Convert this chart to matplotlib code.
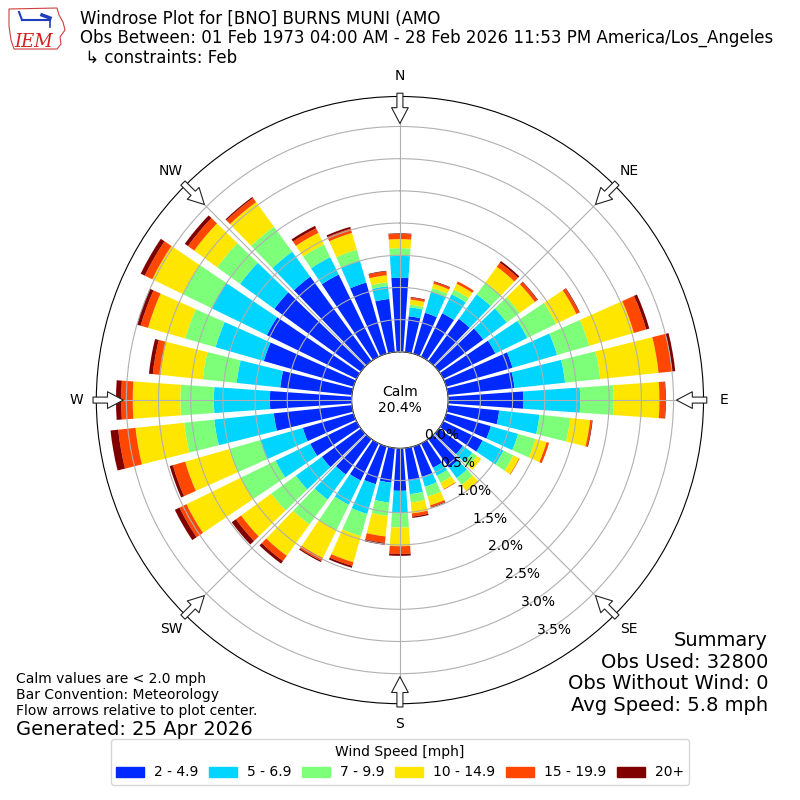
import numpy as np
import matplotlib
matplotlib.use('Agg')
import matplotlib.pyplot as plt
from matplotlib.patches import FancyArrowPatch, Polygon, Patch

# wind directions (deg, from) and speed bins
directions = np.arange(0, 360, 10)
speed_labels = ['2 - 4.9', '5 - 6.9', '7 - 9.9', '10 - 14.9', '15 - 19.9', '20+']

# frequency (%) of each speed bin per direction
f_2_5 = [1.15, 0.56, 0.66, 0.75, 0.81, 0.85, 0.90, 1.07, 1.04, 1.17, 0.80, 0.72,
         0.68, 0.46, 0.55, 0.42, 0.49, 0.51, 0.66, 0.54, 0.61, 0.64, 0.68, 0.75,
         0.80, 0.82, 1.22, 1.27, 1.12, 1.45, 1.55, 1.66, 1.62, 1.42, 1.15, 0.83]
f_5_7 = [0.34, 0.14, 0.34, 0.33, 0.47, 0.45, 0.55, 0.72, 0.79, 0.88, 0.63, 0.44,
         0.36, 0.18, 0.20, 0.14, 0.16, 0.21, 0.35, 0.31, 0.48, 0.42, 0.48, 0.50,
         0.60, 0.69, 0.93, 0.87, 0.68, 0.78, 0.95, 0.66, 0.48, 0.30, 0.35, 0.20]
f_7_10 = [0.12, 0.04, 0.06, 0.08, 0.23, 0.25, 0.50, 0.52, 0.55, 0.52, 0.48, 0.28,
          0.17, 0.09, 0.13, 0.12, 0.16, 0.13, 0.22, 0.21, 0.36, 0.44, 0.48, 0.47,
          0.60, 0.50, 0.47, 0.52, 0.53, 0.49, 0.50, 0.44, 0.48, 0.22, 0.18, 0.06]
f_10_15 = [0.14, 0.08, 0.07, 0.10, 0.30, 0.29, 0.35, 0.72, 0.91, 0.71, 0.31, 0.18,
           0.10, 0.08, 0.12, 0.11, 0.14, 0.17, 0.29, 0.32, 0.42, 0.48, 0.60, 0.58,
           0.94, 0.71, 0.76, 0.74, 0.66, 0.60, 0.53, 0.44, 0.47, 0.20, 0.27, 0.11]
f_15_20 = [0.08, 0.03, 0.03, 0.04, 0.08, 0.05, 0.05, 0.20, 0.21, 0.09, 0.03, 0.04,
           0.01, 0.00, 0.01, 0.01, 0.03, 0.05, 0.12, 0.10, 0.06, 0.05, 0.10, 0.10,
           0.12, 0.20, 0.27, 0.18, 0.12, 0.12, 0.13, 0.12, 0.08, 0.08, 0.07, 0.06]
f_20p = [0.01, 0.01, 0.01, 0.00, 0.03, 0.01, 0.01, 0.05, 0.05, 0.01, 0.01, 0.00,
         0.00, 0.00, 0.00, 0.00, 0.01, 0.02, 0.03, 0.03, 0.03, 0.02, 0.05, 0.08,
         0.08, 0.05, 0.12, 0.08, 0.06, 0.06, 0.07, 0.06, 0.02, 0.04, 0.03, 0.01]

calm_pct = 20.4
rticks = [0.0, 0.5, 1.0, 1.5, 2.0, 2.5, 3.0, 3.5]
compass = ['N', 'NE', 'E', 'SE', 'S', 'SW', 'W', 'NW']

bins = np.array([f_2_5, f_5_7, f_7_10, f_10_15, f_15_20, f_20p])
tops = np.cumsum(bins, axis=0)
colors = plt.cm.jet(np.linspace(0, 1, 7)[1:])

fig = plt.figure(figsize=(8, 8), dpi=100)
ax = fig.add_axes([0.1204, 0.1204, 0.759, 0.759], projection='polar')
ax.set_theta_zero_location('N')
ax.set_theta_direction(-1)

theta = np.deg2rad(directions)
width = np.deg2rad(8)
bottom = np.zeros(len(directions))
for i in range(6):
    ax.bar(theta, bins[i], width=width, bottom=bottom, color=colors[i],
           linewidth=0, zorder=2)
    bottom = tops[i]

rmax = tops[-1].max() * 1.052
ax.set_ylim(0, rmax)
ax.set_rorigin(-0.189 * rmax)
ax.set_axisbelow(False)
ax.grid(True, color='#b0b0b0', lw=0.8)
ax.set_yticks(rticks)
ax.set_yticklabels(['%.1f%%' % t for t in rticks], fontsize=10)
ax.set_rlabel_position(150)
ax.set_xticks(np.deg2rad(np.arange(0, 360, 45)))
ax.set_xticklabels(compass, fontsize=10)
ax.tick_params(axis='x', pad=4)

# calm circle
ax.text(0.5, 0.5, 'Calm\n%.1f%%' % calm_pct, transform=ax.transAxes,
        ha='center', va='center', fontsize=10, zorder=5)

# flow arrows on the outer ring pointing to the centre
for d in np.deg2rad(np.arange(0, 360, 45)):
    a = (0.5 + 0.5054 * np.sin(d), 0.5 + 0.5054 * np.cos(d))
    b = (0.5 + 0.4555 * np.sin(d), 0.5 + 0.4555 * np.cos(d))
    arr = FancyArrowPatch(a, b, transform=ax.transAxes,
                          arrowstyle='simple,head_length=0.95,head_width=1.0,tail_width=0.36',
                          mutation_scale=12, fc='white', ec='#222222', lw=0.8,
                          shrinkA=0, shrinkB=0, clip_on=False, zorder=6)
    ax.add_patch(arr)

# rough IEM logo
def px(x, y):
    return (x / 800.0, 1 - y / 800.0)

iowa = [px(9, 9), px(57, 8), px(59, 15), px(63, 22), px(65, 30), px(60, 37),
        px(61, 44), px(57, 49), px(14, 49), px(11, 40), px(9, 26)]
fig.patches.append(Polygon(iowa, closed=True, fill=False, ec='#d04040', lw=0.8,
                           transform=fig.transFigure, figure=fig))
fig.lines.append(plt.Line2D([22 / 800, 50 / 800], [1 - 20 / 800, 1 - 20 / 800],
                            color='#1f3fbf', lw=1.5, transform=fig.transFigure))
fig.lines.append(plt.Line2D([19 / 800, 22 / 800], [1 - 12 / 800, 1 - 20 / 800],
                            color='#1f3fbf', lw=1.5, transform=fig.transFigure))
fig.lines.append(plt.Line2D([42 / 800, 50 / 800], [1 - 15 / 800, 1 - 18 / 800],
                            color='#1f3fbf', lw=2.5, transform=fig.transFigure))
fig.lines.append(plt.Line2D([50 / 800, 50 / 800], [1 - 20 / 800, 1 - 27 / 800],
                            color='#1f3fbf', lw=1.2, transform=fig.transFigure))
fig.text(14 / 800, 1 - 47 / 800, 'IEM', color='#d02020', fontsize=13,
         family='DejaVu Serif', style='italic')

# header text
fig.text(0.1, 1 - 10 / 800, 'Windrose Plot for [BNO] BURNS MUNI (AMO\n'
         'Obs Between: 01 Feb 1973 04:00 AM - 28 Feb 2026 11:53 PM America/Los_Angeles\n'
         ' \u21b3 constraints: Feb', fontsize=12, va='top', linespacing=1.08)

# summary and notes
fig.text(0.96, 1 - 631 / 800, 'Summary\nObs Used: 32800\nObs Without Wind: 0\n'
         'Avg Speed: 5.8 mph', ha='right', va='top', fontsize=14, linespacing=1.17)
fig.text(0.02, 1 - 672 / 800, 'Calm values are < 2.0 mph\nBar Convention: Meteorology\n'
         'Flow arrows relative to plot center.', fontsize=10, va='top', linespacing=1.2)
fig.text(0.02, 1 - 720 / 800, 'Generated: 25 Apr 2026', fontsize=14, va='top')

handles = [Patch(color=colors[i], label=speed_labels[i]) for i in range(6)]
fig.legend(handles=handles, loc='lower center', bbox_to_anchor=(0.5, 0.01), ncol=6,
           title='Wind Speed [mph]', fontsize=10, title_fontsize=10,
           handlelength=2.0, handleheight=0.7, handletextpad=0.7, columnspacing=0.8)

fig.savefig('out.png', dpi=100)
